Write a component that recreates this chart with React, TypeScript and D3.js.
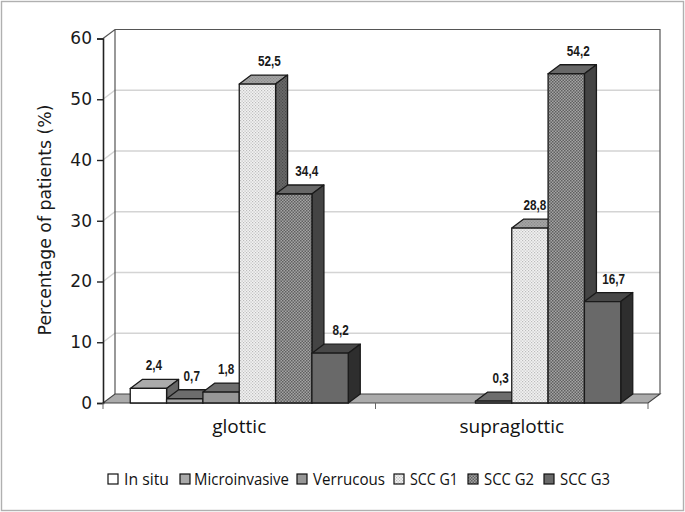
import * as d3 from 'd3'
import React, { useEffect, useRef } from 'react'

const categories = ['glottic', 'supraglottic']
const seriesNames = ['In situ', 'Microinvasive', 'Verrucous', 'SCC G1', 'SCC G2', 'SCC G3']
const glottic = [2.4, 0.7, 1.8, 52.5, 34.4, 8.2]
const supraglottic = [0, 0, 0.3, 28.8, 54.2, 16.7]
const yTicks = [0, 10, 20, 30, 40, 50, 60]

const W = 685
const H = 512
const left = 103
const right = 648
const bottom = 403
const top = 38.5
const dx = 12
const dy = -9

const fronts = ['#ffffff', '#a9a9a9', '#979797', 'url(#dotFront)', 'url(#checkFront)', '#696969']
const tops = ['#ababab', '#6d6d6d', '#6d6d6d', 'url(#dotTop)', '#686868', '#484848']
const sides = ['#666666', '#555555', '#555555', 'url(#dotSide)', '#444444', '#2e2e2e']
const legendX = [108, 180, 297, 394, 468, 544]
const legendTextX = [124, 194, 313, 410, 484, 560]
const legendWidths = [45, 95, 72, 48, 50, 50]
// value labels sit by hand next to taller neighbours, as in the original
const labelShift = [
  [5.5, 7, 5, 12, 13, 10.5],
  [0, 0, 7, 5, 12, 11]
]

const comma = (v: number) => String(v).replace('.', ',')
const labelFont = '"Open Sans", "DejaVu Sans", sans-serif'

function addPattern(defs: any, id: string, bg: string, fg: string, size: number, r: number) {
  const p = defs
    .append('pattern')
    .attr('id', id)
    .attr('width', size)
    .attr('height', size)
    .attr('patternUnits', 'userSpaceOnUse')
  p.append('rect').attr('width', size).attr('height', size).attr('fill', bg)
  p.append('rect').attr('width', r).attr('height', r).attr('fill', fg)
  p.append('rect').attr('x', size / 2).attr('y', size / 2).attr('width', r).attr('height', r).attr('fill', fg)
}

export default function App() {
  const ref = useRef<SVGSVGElement>(null)

  useEffect(() => {
    const svg = d3.select(ref.current)
    svg.selectAll('*').remove()

    const defs = svg.append('defs')
    addPattern(defs, 'dotFront', '#f2f2f2', '#bcbcbc', 3, 1.2)
    addPattern(defs, 'dotTop', '#a6a6a6', '#8a8a8a', 3, 1.2)
    addPattern(defs, 'dotSide', '#6a6a6a', '#4a4a4a', 3, 1.2)
    addPattern(defs, 'checkFront', '#a4a4a4', '#606060', 3, 1.5)

    svg.append('rect').attr('width', W).attr('height', H).attr('fill', '#fff')
    svg
      .append('rect')
      .attr('x', 1.5)
      .attr('y', 1.5)
      .attr('width', 682)
      .attr('height', 509)
      .attr('fill', '#fff')
      .attr('stroke', '#b0b0b0')
      .attr('stroke-width', 1.4)

    const y = d3.scaleLinear().domain([0, 60]).range([bottom, top])
    const x0 = d3.scaleBand().domain(categories).range([left, right]).paddingInner(0.2).paddingOuter(0.1)
    const x1 = d3.scaleBand().domain(seriesNames).range([0, x0.bandwidth()])

    // back wall and gridlines
    const grid = svg.append('g')
    yTicks.filter(t => t > 0 && t < 60).forEach(t => {
      grid
        .append('path')
        .attr('d', `M${left},${y(t)}l${dx},${dy}H${right + dx}`)
        .attr('fill', 'none')
        .attr('stroke', '#d4d4d4')
        .attr('stroke-width', 1.5)
    })
    svg
      .append('path')
      .attr('d', `M${left},${y(60)}l${dx},${dy}H${right + dx}V${bottom + dy}M${left + dx},${y(60) + dy}V${bottom + dy}`)
      .attr('fill', 'none')
      .attr('stroke', '#555')
      .attr('stroke-width', 1.2)

    // floor
    svg
      .append('path')
      .attr('d', `M${left},${bottom}l${dx},${dy}H${right + dx}l${-dx},${-dy}Z`)
      .attr('fill', '#ababab')
      .attr('stroke', '#444')
      .attr('stroke-width', 1.1)

    // bars
    const data = [glottic, supraglottic]
    categories.forEach((c, ci) => {
      seriesNames.forEach((s, si) => {
        const v = data[ci][si]
        if (v === 0) return
        const bx = (x0(c) as number) + (x1(s) as number)
        const bw = x1.bandwidth()
        const by = y(v)
        const g = svg.append('g').attr('stroke', '#1a1a1a').attr('stroke-width', 1.3).attr('stroke-linejoin', 'round')
        g.append('path')
          .attr('d', `M${bx},${by}l${dx},${dy}h${bw}l${-dx},${-dy}Z`)
          .attr('fill', tops[si])
        g.append('path')
          .attr('d', `M${bx + bw},${by}l${dx},${dy}V${bottom + dy}l${-dx},${-dy}Z`)
          .attr('fill', sides[si])
        g.append('rect')
          .attr('x', bx)
          .attr('y', by)
          .attr('width', bw)
          .attr('height', bottom - by)
          .attr('fill', fronts[si])
      })
    })

    // value labels
    categories.forEach((c, ci) => {
      seriesNames.forEach((s, si) => {
        const v = data[ci][si]
        if (v === 0) return
        const lx = (x0(c) as number) + (x1(s) as number) + x1.bandwidth() / 2 + labelShift[ci][si]
        svg
          .append('text')
          .attr('transform', `translate(${lx},${y(v) - 18}) scale(0.84,1)`)
          .attr('text-anchor', 'middle')
          .attr('font-family', '"Liberation Sans", sans-serif')
          .attr('font-weight', 700)
          .attr('font-size', 14)
          .attr('fill', '#1a1a1a')
          .text(comma(v))
      })
    })

    // y axis
    const axis = svg
      .append('g')
      .attr('transform', `translate(${left},0)`)
      .call(d3.axisLeft(y).tickValues(yTicks).tickSize(6).tickPadding(5))
    axis.select('.domain').attr('stroke', '#222').attr('stroke-width', 1.6)
    axis.selectAll('line').attr('stroke', '#222').attr('stroke-width', 1.4)
    axis
      .selectAll('text')
      .attr('font-family', '"DejaVu Sans", sans-serif')
      .attr('font-size', 17)
      .attr('fill', '#1a1a1a')

    // x axis ticks and labels
    const xAxis = svg
      .append('g')
      .attr('transform', `translate(0,${bottom})`)
      .call(d3.axisBottom(x0).tickSize(0).tickPadding(17))
    xAxis.select('.domain').remove()
    xAxis
      .selectAll('text')
      .attr('font-family', labelFont)
      .attr('font-size', 19)
      .attr('fill', '#111')
    ;[left, (left + right) / 2, right].forEach(px => {
      svg
        .append('line')
        .attr('x1', px)
        .attr('x2', px)
        .attr('y1', bottom)
        .attr('y2', bottom + 6)
        .attr('stroke', '#666')
    })

    // y title
    svg
      .append('text')
      .attr('transform', `translate(51,220) rotate(-90)`)
      .attr('text-anchor', 'middle')
      .attr('font-family', '"DejaVu Sans", sans-serif')
      .attr('font-size', 17.3)
      .attr('fill', '#1a1a1a')
      .text('Percentage of patients (%)')

    // legend
    seriesNames.forEach((s, i) => {
      svg
        .append('rect')
        .attr('x', legendX[i])
        .attr('y', 474)
        .attr('width', 10)
        .attr('height', 10)
        .attr('fill', fronts[i])
        .attr('stroke', '#111')
        .attr('stroke-width', 1.2)
      svg
        .append('text')
        .attr('x', legendTextX[i])
        .attr('y', 485)
        .attr('font-family', labelFont)
        .attr('font-size', 15.5)
        .attr('fill', '#111')
        .attr('textLength', legendWidths[i])
        .attr('lengthAdjust', 'spacingAndGlyphs')
        .text(s)
    })
  }, [])

  return <svg ref={ref} width={W} height={H} style={{ position: 'fixed', left: 0, top: 0 }} />
}
